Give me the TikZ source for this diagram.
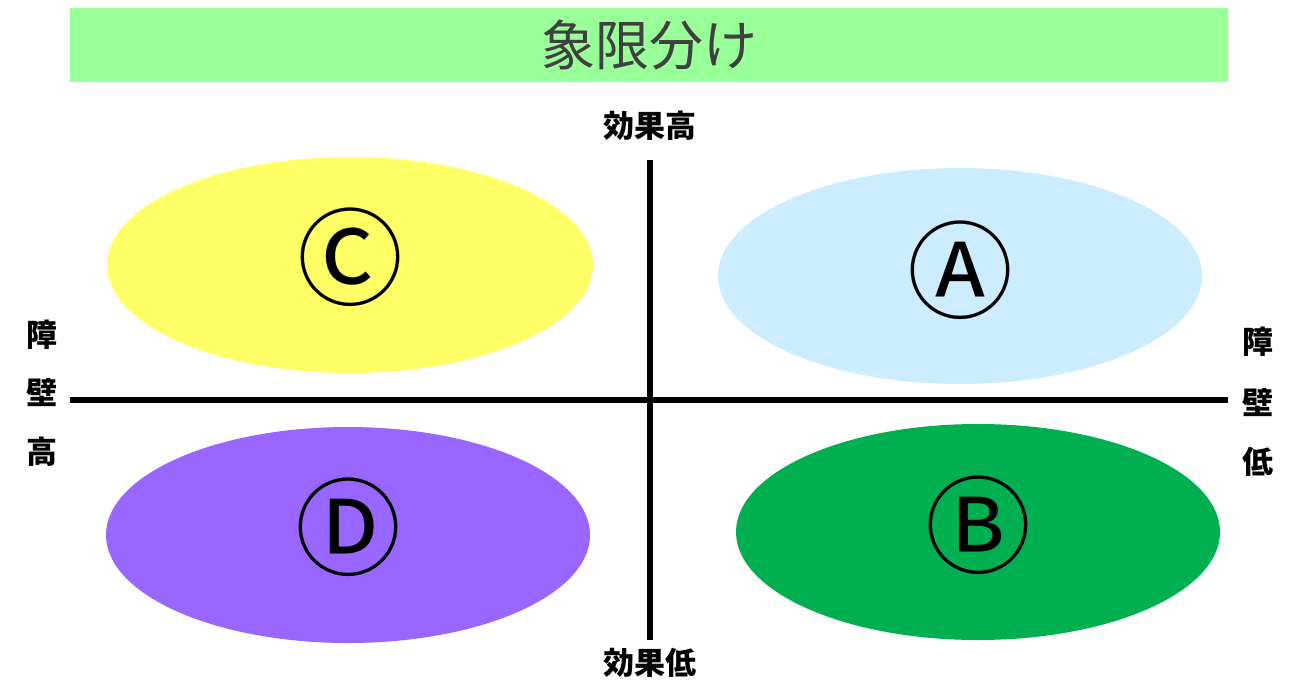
\documentclass[tikz,border=0pt]{standalone}
\usepackage{fontspec}
\setmainfont{Noto Sans CJK JP}
\definecolor{banner}{HTML}{99FF99}
\definecolor{cyel}{HTML}{FFFF66}
\definecolor{cblue}{HTML}{CCECFF}
\definecolor{cpurp}{HTML}{9966FF}
\definecolor{cgreen}{HTML}{00B050}
\begin{document}
\begin{tikzpicture}[x=1pt,y=-1pt,
  letter/.style={inner sep=0pt,font=\fontsize{106}{106}\selectfont},
  axlabel/.style={font=\bfseries\fontsize{31}{31}\selectfont,inner sep=0pt},
  axis/.style={line width=6pt}]
\useasboundingbox (0,0) rectangle (1292,681);
\node[fill=banner,minimum width=1158pt,minimum height=74pt,inner sep=0pt,anchor=north west,text=black!75,font=\fontsize{54}{54}\selectfont] (title) at (70,8) {象限分け};
\fill[cyel] (350,265) ellipse [x radius=243, y radius=108];
\node[letter] (C) at (350,257) {Ⓒ};
\fill[cblue] (960,276) ellipse [x radius=242, y radius=108];
\node[letter] (A) at (960,270) {Ⓐ};
\fill[cpurp] (348,535) ellipse [x radius=242, y radius=108];
\node[letter] (D) at (348,527) {Ⓓ};
\fill[cgreen] (978,532) ellipse [x radius=242, y radius=108];
\node[letter] (B) at (978,525) {Ⓑ};
\coordinate (hl) at (70,400);
\coordinate (hr) at (1228,400);
\coordinate (vt) at (650,160);
\coordinate (vb) at (650,640);
\draw[axis] (hl) -- (hr);
\draw[axis] (vt) -- (vb);
\node[axlabel] (top) at (650,126) {効果高};
\node[axlabel] (bot) at (650,663) {効果低};
\node[axlabel] (l1) at (42,335) {障};
\node[axlabel] (l2) at (42,393) {壁};
\node[axlabel] (l3) at (42,452) {高};
\node[axlabel] (r1) at (1258,342) {障};
\node[axlabel] (r2) at (1258,403) {壁};
\node[axlabel] (r3) at (1258,462) {低};
\end{tikzpicture}
\end{document}
